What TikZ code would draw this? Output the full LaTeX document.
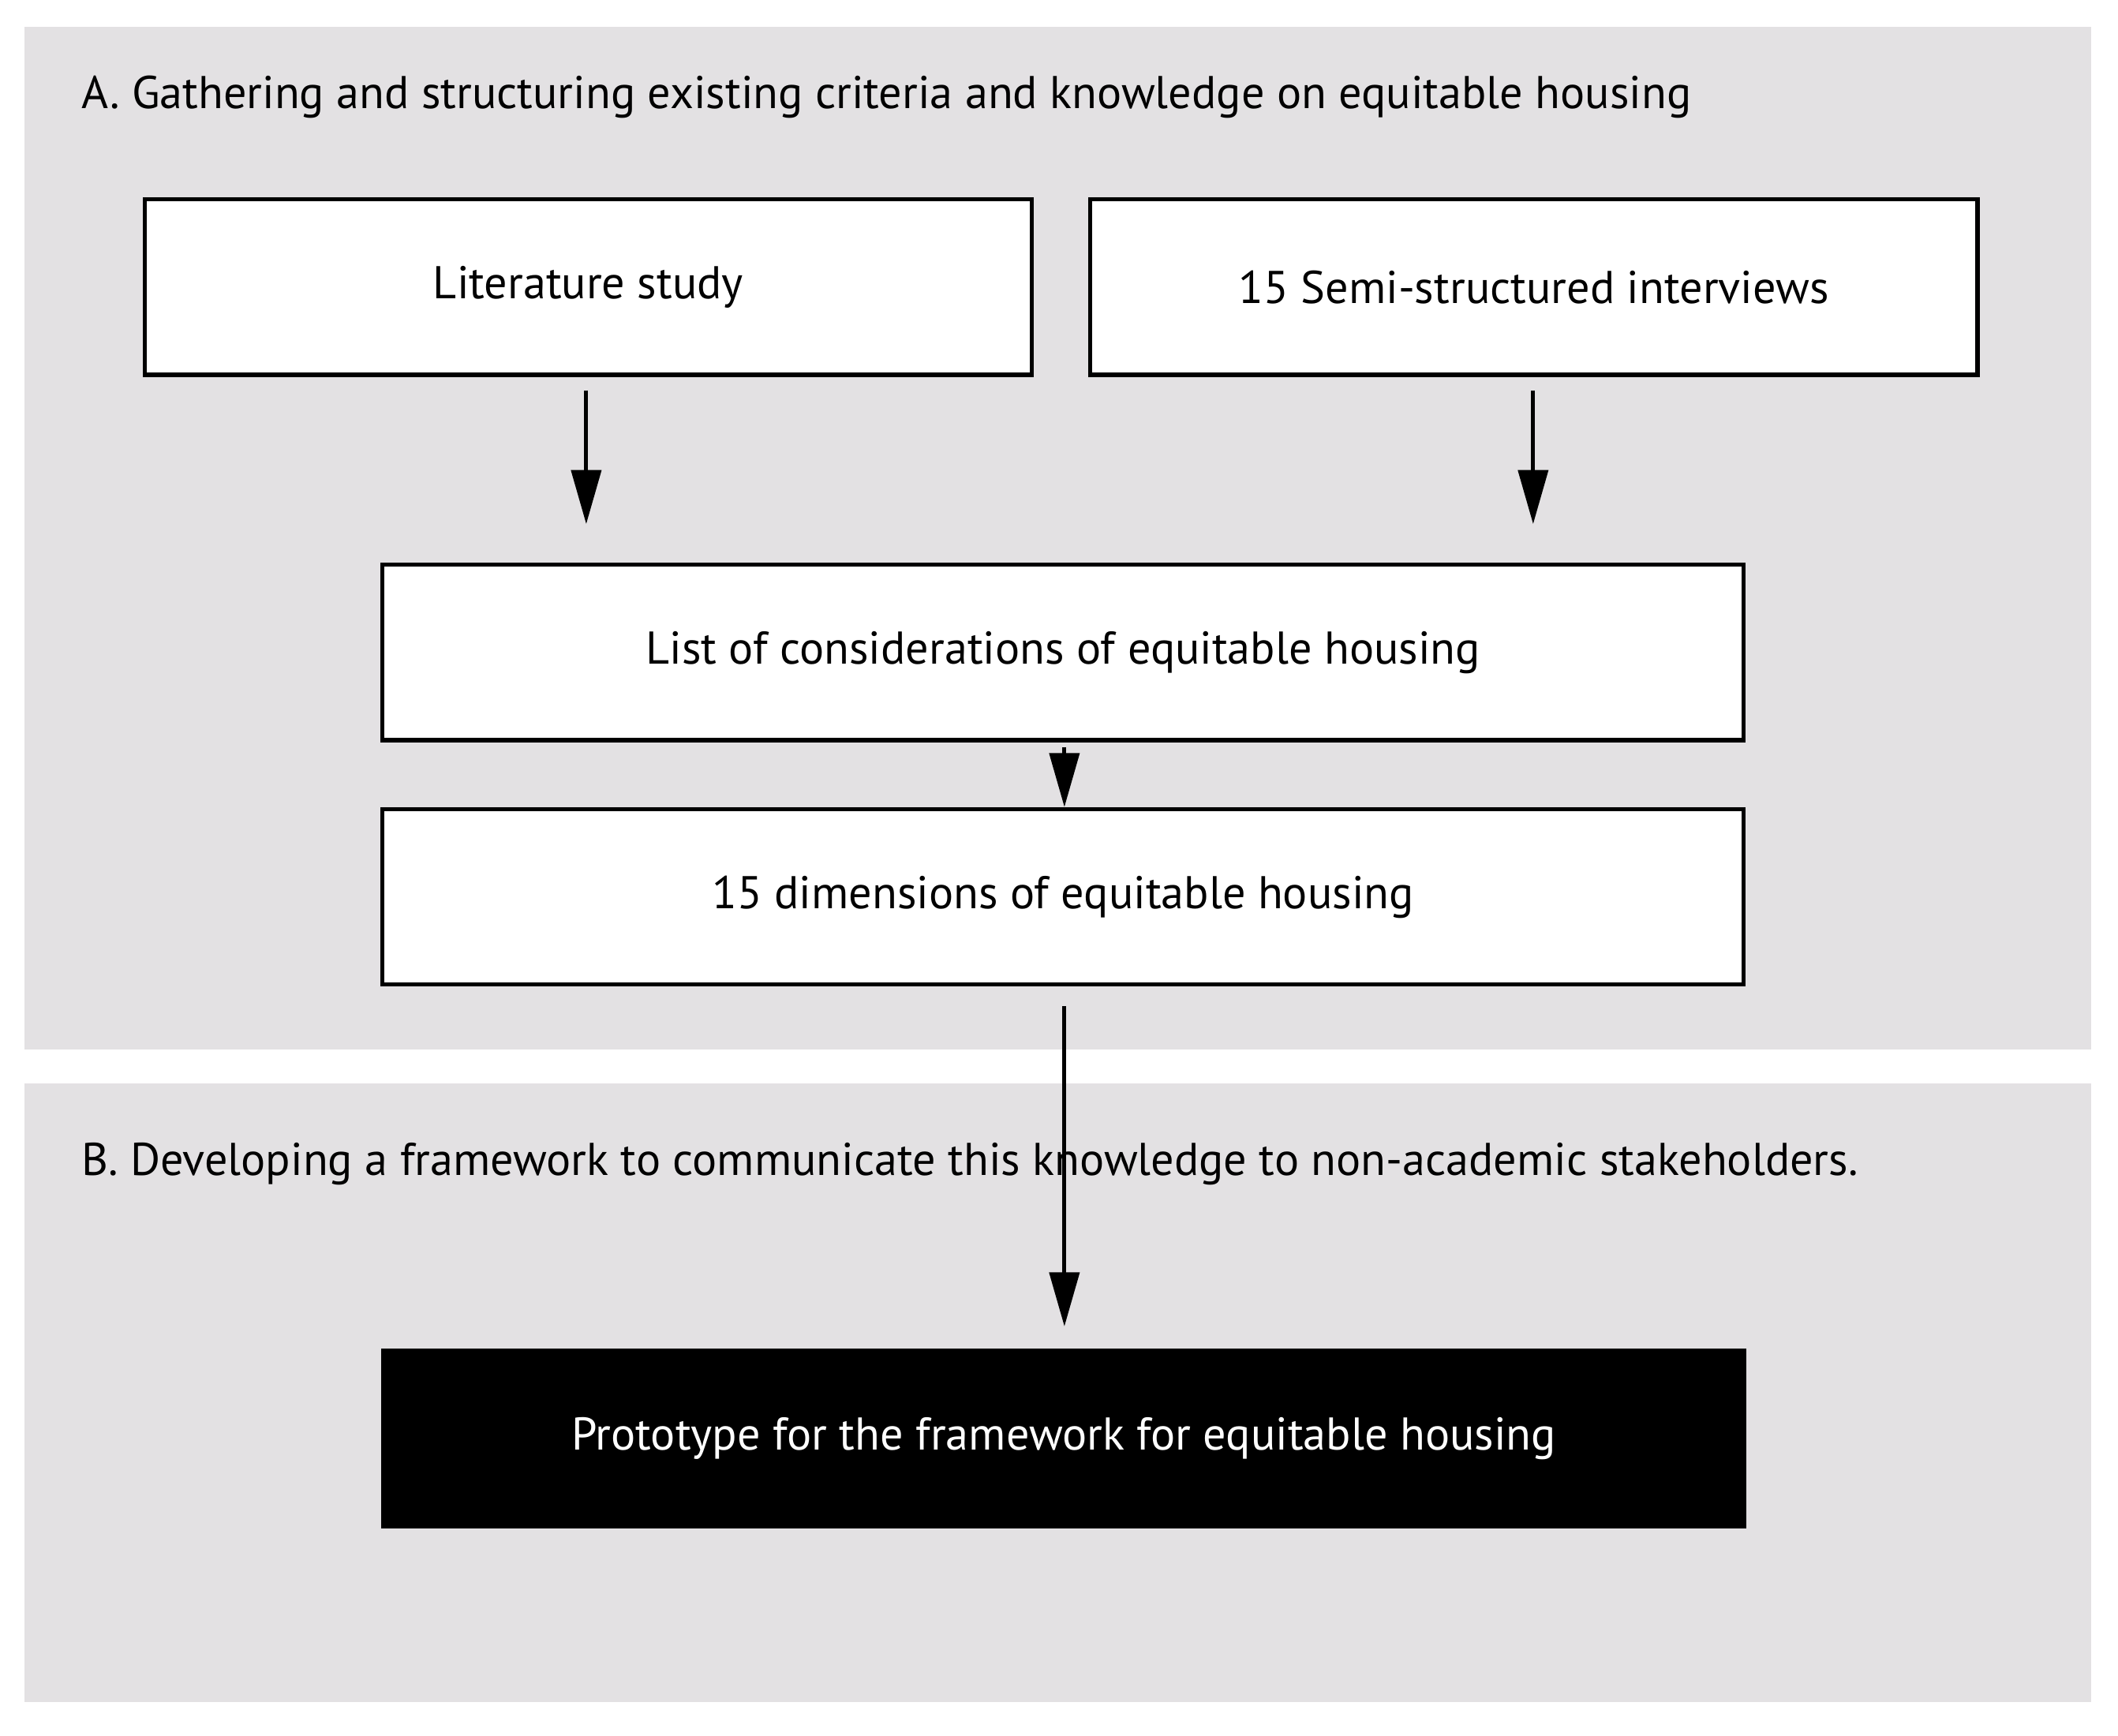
\documentclass[tikz,border=0pt]{standalone}
\usepackage{fontspec}
\setmainfont{PT Sans}
\usetikzlibrary{arrows.meta}
\definecolor{panel}{HTML}{E3E1E3}
\begin{document}
\begin{tikzpicture}[x=0.5pt,y=-0.5pt,
  box/.style={draw=black,line width=1.5pt,fill=white,minimum width=504pt,minimum height=65pt,inner sep=0pt,font=\fontsize{17}{20}\selectfont},
  arr/.style={line width=1.5pt,-{Triangle[width=11pt,length=20pt]}},
  ttl/.style={anchor=west,inner sep=0pt,font=\fontsize{17}{20}\selectfont}]
\useasboundingbox (0,0) rectangle (1568,1285);
\fill[white] (0,0) rectangle (1568,1285);
\fill[panel] (18,20) rectangle (1548,777);
\fill[panel] (18,802) rectangle (1548,1260);
\node[ttl] (ta) at (60,72) {A. Gathering and structuring existing criteria and knowledge on equitable housing};
\node[box,minimum width=328.5pt] (lit) at (435.5,212.5) {Literature study};
\node[box,minimum width=328.5pt] (int) at (1135.5,212.5) {15 Semi-structured interviews};
\node[box] (list) at (787,483) {List of considerations of equitable housing};
\node[box] (dim) at (787,664) {15 dimensions of equitable housing};
\node[box,fill=black,text=white] (proto) at (787.5,1065) {Prototype for the framework for equitable housing};
\node[ttl] (tb) at (60,862) {B. Developing a framework to communicate this knowledge to non-academic stakeholders.};
\coordinate (a1) at (434,388); \coordinate (a2) at (1135,388);
\draw[arr] (lit.south -| a1) ++(0,10) -- (a1);
\draw[arr] (int.south -| a2) ++(0,10) -- (a2);
\draw[arr] (788,553) -- (dim.north -| 788,0);
\coordinate (a4) at (788,982);
\draw[arr] (788,745) -- (a4);
\end{tikzpicture}
\end{document}
